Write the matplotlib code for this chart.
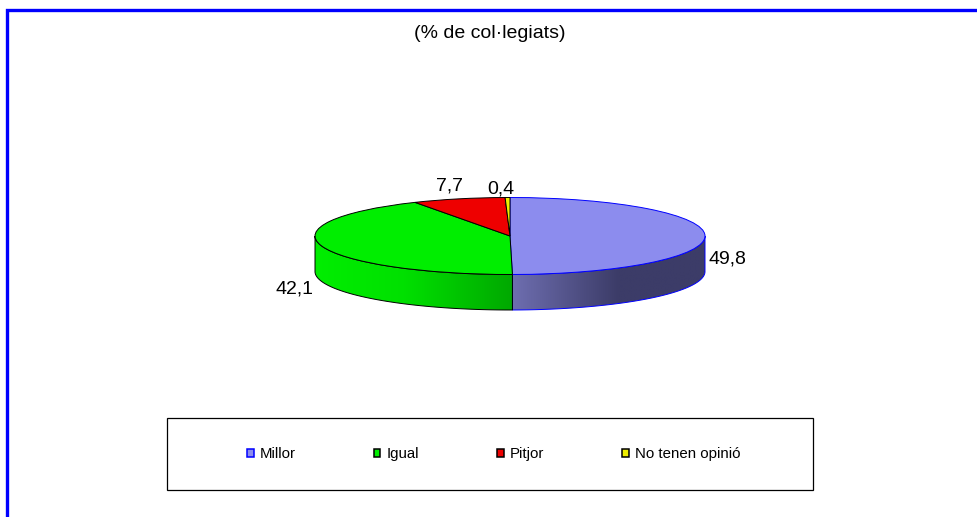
import numpy as np
import matplotlib
matplotlib.use("Agg")
import matplotlib.pyplot as plt
from matplotlib.patches import Patch, Polygon, Rectangle
from matplotlib.colors import LinearSegmentedColormap

plt.rcParams['font.family'] = ['Liberation Sans', 'DejaVu Sans']

categories = ['Millor', 'Igual', 'Pitjor', 'No tenen opinió']
values = [49.8, 42.1, 7.7, 0.4]
value_labels = ['49,8', '42,1', '7,7', '0,4']
title = '(% de col·legiats)'

top_colors = ['#8c8cee', '#00ee00', '#ee0000', '#eeee00']
edge_colors = ['#0000ff', '#000000', '#000000', '#000000']
legend_colors = ['#8c8cee', '#00ee00', '#ee0000', '#eeee00']
wall_stops = [
    [(0.0, '#6e6eb0'), (0.55, '#3c3c68'), (1.0, '#3c3c68')],
    [(0.0, '#00ee00'), (0.45, '#00e000'), (1.0, '#00a800')],
    None, None,
]

W, H = 977, 517
fig = plt.figure(figsize=(W / 100, H / 100), dpi=100, facecolor='white')

# pixel-coordinate overlay
ov = fig.add_axes([0, 0, 1, 1], zorder=3)
ov.set_xlim(0, W)
ov.set_ylim(H, 0)
ov.axis('off')
ov.patch.set_alpha(0)

# blue outer frame (left and top only are visible)
ov.plot([6.5, 6.5, W], [H, 9.5, 9.5], color='#0000ff', lw=2.4, solid_joinstyle='miter',
        solid_capstyle='butt', clip_on=False)

# pie geometry in pixels
x0, x1 = 315, 705
y_top, y_bot, depth = 197.5, 274.5, 35.5
ry = (y_bot - y_top) / 2
d = depth / ry

pie_ax = fig.add_axes([x0 / W, 1 - (y_bot + depth) / H, (x1 - x0) / W, (y_bot + depth - y_top) / H], zorder=2)
wedges, _ = pie_ax.pie(values, startangle=90, counterclock=False, radius=1, colors=top_colors,
                       wedgeprops=dict(linewidth=0.7, zorder=5, clip_on=False))
for w, ec in zip(wedges, edge_colors):
    w.set_edgecolor(ec)
pie_ax.set_aspect('auto')

# side walls built from the same value angles
cum = np.concatenate([[0], np.cumsum(values)])
for i in range(len(values)):
    a0 = 90 - cum[i] * 3.6
    a1 = 90 - cum[i + 1] * 3.6
    lo = max(a1, -180)
    hi = min(a0, 0)
    if lo >= hi or wall_stops[i] is None:
        continue
    t = np.radians(np.linspace(lo, hi, 120))
    pts = np.column_stack([np.cos(t), np.sin(t)])
    low = pts[::-1] - [0, d]
    poly = Polygon(np.vstack([pts, low]), closed=True, facecolor='none',
                   edgecolor=edge_colors[i], lw=0.7, zorder=3, clip_on=False)
    pie_ax.add_patch(poly)
    xa, xb = np.cos(t).min(), np.cos(t).max()
    cmap = LinearSegmentedColormap.from_list('w', wall_stops[i])
    grad = np.linspace(0, 1, 256).reshape(1, -1)
    im = pie_ax.imshow(grad, extent=[xa, xb, -1 - d, 0], aspect='auto', cmap=cmap,
                       zorder=2, interpolation='bilinear')
    clip = Polygon(np.vstack([pts, low]), closed=True, transform=pie_ax.transData)
    im.set_clip_path(clip)
pie_ax.set_xlim(-1, 1)
pie_ax.set_ylim(-1 - d, 1)
pie_ax.set_aspect('auto')
pie_ax.axis('off')

# title and data labels
fs = 14
ov.text(489.5, 33, title, ha='center', va='center', fontsize=fs, color='black')
label_pos = [(727.5, 259.5), (295, 289), (449.5, 186), (501, 189)]
for s, (x, y) in zip(value_labels, label_pos):
    ov.text(x, y, s, ha='center', va='center', fontsize=fs, color='black')

# legend box and legend
ov.add_patch(Rectangle((167, 418), 646, 72, facecolor='white', edgecolor='black', lw=0.9, zorder=1))
handles = [Patch(facecolor=c, edgecolor=e, lw=1.1) for c, e in
           zip(legend_colors, ['#0000ff', '#000000', '#000000', '#000000'])]
leg = ov.legend(handles, categories, ncol=4, loc='center', bbox_to_anchor=(493.5, 454),
                bbox_transform=ov.transData, frameon=False, fontsize=10.8,
                handlelength=0.45, handleheight=0.45, handletextpad=0.4,
                columnspacing=5.2, borderpad=0, labelcolor='black')
leg.set_zorder(2)

fig.savefig('out.png', dpi=100, facecolor='white')
